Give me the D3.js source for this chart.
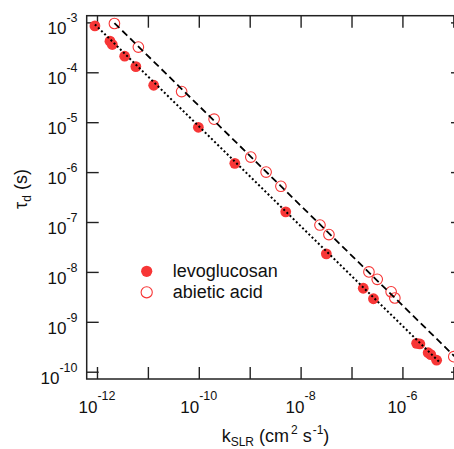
<!DOCTYPE html>
<html>
<head>
<meta charset="utf-8">
<script src="https://cdn.jsdelivr.net/npm/d3@7"></script>
<style>
  body { margin: 0; background: #fff; }
  svg { display: block; font-family: "Liberation Sans", Arial, Helvetica, sans-serif; }
</style>
</head>
<body>
<svg id="chart" width="454" height="449"></svg>
<script>
// levoglucosan (filled)
const levoK = [9.1e-13, 1.8e-12, 2.0e-12, 3.5e-12, 5.8e-12, 1.3e-11, 9.8e-11, 5.1e-10, 5.1e-9,
  3.2e-8, 1.7e-7, 2.7e-7, 1.9e-6, 2.2e-6, 3.2e-6, 3.6e-6, 4.7e-6];
const levoTau = [8.5e-4, 4.2e-4, 3.6e-4, 2.1e-4, 1.3e-4, 5.5e-5, 7.9e-6, 1.5e-6, 1.6e-7,
  2.3e-8, 4.7e-9, 2.9e-9, 3.7e-10, 3.6e-10, 2.4e-10, 2.2e-10, 1.7e-10];

// abietic acid (open)
const abietK = [2.2e-12, 6.5e-12, 4.6e-11, 2.0e-10, 1.05e-9, 2.1e-9, 4.1e-9, 2.4e-8, 3.6e-8,
  2.2e-7, 3.2e-7, 6.0e-7, 7.1e-7, 1.02e-5];
const abietTau = [9.5e-4, 3.2e-4, 4.1e-5, 1.15e-5, 2.0e-6, 1.0e-6, 5.2e-7, 8.7e-8, 5.6e-8,
  1.0e-8, 7.1e-9, 4.0e-9, 3.0e-9, 2.0e-10];

// fit lines (end points)
const levoFitK = [9.1e-13, 5.3e-6];
const levoFitTau = [9.1e-4, 1.57e-10];
const abietFitK = [2.2e-12, 1.6e-5];
const abietFitTau = [9.7e-4, 1.34e-10];

const xTickExp = [-12, -11, -10, -9, -8, -7, -6, -5];
const xLabelExp = [-12, -10, -8, -6];
const yTickExp = [-10, -9, -8, -7, -6, -5, -4, -3];

const red = "#f73636";
const pLeft = 86.7, pRight = 463, pTop = 15.7, pBottom = 379;

const svg = d3.select("#chart");
svg.append("rect").attr("width", 454).attr("height", 449).attr("fill", "#fff");

const x = d3.scaleLog().domain([Math.pow(10, -12.202), Math.pow(10, -4.81)]).range([pLeft, pRight]);
const y = d3.scaleLog().domain([Math.pow(10, -10.146), Math.pow(10, -2.866)]).range([pBottom, pTop]);

const xTicks = xTickExp.map((e) => Math.pow(10, e));
const yTicks = yTickExp.map((e) => Math.pow(10, e));

const styleAxis = (g) => {
  g.select(".domain").remove();
  g.selectAll(".tick line").attr("stroke", "#222").attr("stroke-width", 1.4);
  g.selectAll(".tick text").remove();
};

svg.append("g").attr("transform", `translate(0,${pBottom})`)
  .call(d3.axisBottom(x).tickValues(xTicks).tickSize(-12).tickSizeOuter(0)).call(styleAxis);
svg.append("g").attr("transform", `translate(0,${pTop})`)
  .call(d3.axisTop(x).tickValues(xTicks).tickSize(-12).tickSizeOuter(0)).call(styleAxis);
svg.append("g").attr("transform", `translate(${pLeft},0)`)
  .call(d3.axisLeft(y).tickValues(yTicks).tickSize(-12).tickSizeOuter(0)).call(styleAxis);
svg.append("g").attr("transform", `translate(${pRight},0)`)
  .call(d3.axisRight(y).tickValues(yTicks).tickSize(-12).tickSizeOuter(0)).call(styleAxis);

svg.append("rect")
  .attr("x", pLeft).attr("y", pTop)
  .attr("width", pRight - pLeft).attr("height", pBottom - pTop)
  .attr("fill", "none").attr("stroke", "#222").attr("stroke-width", 1.5);

// tick labels with superscript exponents
const xLab = svg.append("g").selectAll("text").data(xLabelExp).enter().append("text")
  .attr("x", (d) => x(Math.pow(10, d)))
  .attr("y", 413.3)
  .attr("text-anchor", "middle")
  .attr("font-size", 17)
  .attr("fill", "#111");
xLab.append("tspan").text("10");
xLab.append("tspan").attr("dy", -13).attr("font-size", 12.5).text((d) => d);

const yLab = svg.append("g").selectAll("text").data(yTickExp).enter().append("text")
  .attr("x", 77.5)
  .attr("y", (d) => y(Math.pow(10, d)) + 12)
  .attr("text-anchor", "end")
  .attr("font-size", 17)
  .attr("fill", "#111");
yLab.append("tspan").text("10");
yLab.append("tspan").attr("dy", -12).attr("font-size", 12.5).text((d) => d);

// axis titles
const xTitle = svg.append("text")
  .attr("x", 275.5).attr("y", 442)
  .attr("text-anchor", "middle")
  .attr("font-size", 18)
  .attr("fill", "#111");
xTitle.append("tspan").text("k");
xTitle.append("tspan").attr("dy", 4).attr("font-size", 12).text("SLR");
xTitle.append("tspan").attr("dy", -4).text(" (cm");
xTitle.append("tspan").attr("dy", -8).attr("dx", 2).attr("font-size", 12).text("2");
xTitle.append("tspan").attr("dy", 8).text(" s");
xTitle.append("tspan").attr("dy", -8).attr("dx", 1).attr("font-size", 12).text("-1");
xTitle.append("tspan").attr("dy", 8).text(")");

const yTitle = svg.append("text")
  .attr("transform", "translate(27,189) rotate(-90)")
  .attr("text-anchor", "middle")
  .attr("font-size", 18)
  .attr("fill", "#111");
yTitle.append("tspan").text("τ");
yTitle.append("tspan").attr("dy", 4).attr("font-size", 12).text("d");
yTitle.append("tspan").attr("dy", -4).text(" (s)");

// plot area with clipping
svg.append("clipPath").attr("id", "clip").append("rect")
  .attr("x", pLeft).attr("y", pTop).attr("width", pRight - pLeft).attr("height", pBottom - pTop);
const plot = svg.append("g").attr("clip-path", "url(#clip)");

const levo = levoK.map((k, i) => ({k: k, tau: levoTau[i]}));
const abiet = abietK.map((k, i) => ({k: k, tau: abietTau[i]}));

plot.selectAll(".levo").data(levo).enter().append("circle")
  .classed("levo", true)
  .attr("cx", (d) => x(d.k)).attr("cy", (d) => y(d.tau))
  .attr("r", 5.4).attr("fill", red);

plot.selectAll(".abiet").data(abiet).enter().append("circle")
  .classed("abiet", true)
  .attr("cx", (d) => x(d.k)).attr("cy", (d) => y(d.tau))
  .attr("r", 5.3).attr("fill", "none").attr("stroke", red).attr("stroke-width", 1.1);

const line = d3.line().x((d) => x(d.k)).y((d) => y(d.tau));

plot.append("path")
  .datum(levoFitK.map((k, i) => ({k: k, tau: levoFitTau[i]})))
  .attr("d", line)
  .attr("fill", "none").attr("stroke", "#000").attr("stroke-width", 2)
  .attr("stroke-dasharray", "2,2.4");

plot.append("path")
  .datum(abietFitK.map((k, i) => ({k: k, tau: abietFitTau[i]})))
  .attr("d", line)
  .attr("fill", "none").attr("stroke", "#000").attr("stroke-width", 1.8)
  .attr("stroke-dasharray", "7,4");

// legend
const legendNames = ["levoglucosan", "abietic acid"];
const legend = svg.append("g").selectAll("g").data(legendNames).enter().append("g")
  .attr("transform", (d, i) => `translate(146.7,${271.3 + i * 21})`);
legend.append("circle")
  .attr("r", 5.6)
  .attr("fill", (d, i) => i === 0 ? red : "none")
  .attr("stroke", (d, i) => i === 0 ? "none" : red)
  .attr("stroke-width", 1.1);
legend.append("text")
  .attr("x", 26).attr("y", 6)
  .attr("font-size", 18)
  .attr("fill", "#111")
  .text((d) => d);
</script>
</body>
</html>
